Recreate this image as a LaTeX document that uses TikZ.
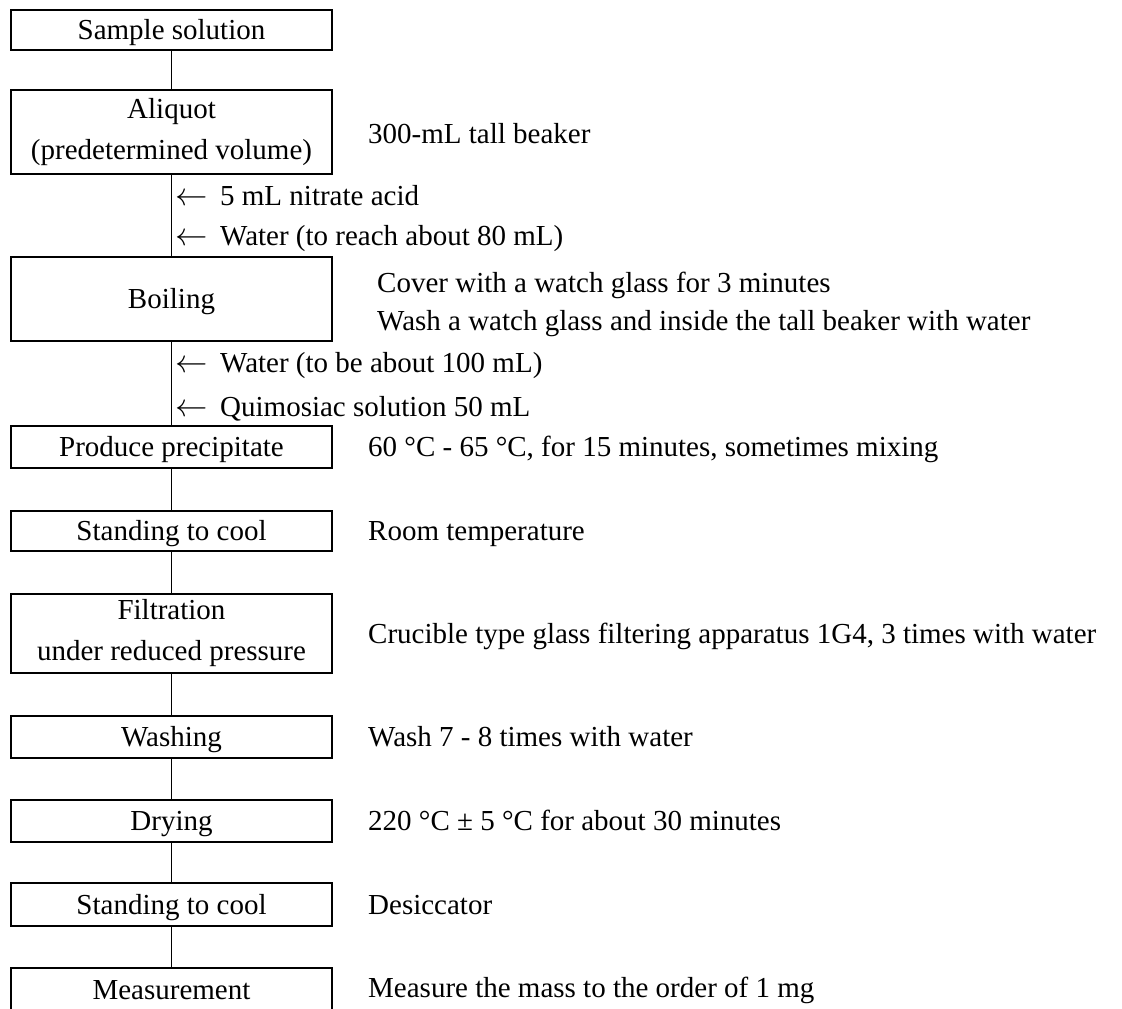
\documentclass[tikz,border=0pt]{standalone}
\usepackage{graphicx}
\usepackage{fontspec}
\setmainfont{Liberation Serif}
\newcommand{\addarrow}{\makebox[45pt][l]{\scalebox{1.3}{$\leftarrow$}}}
\begin{document}
\begin{tikzpicture}[x=1pt,y=-1pt,
  stepbox/.style={draw, line width=1.8pt, minimum width=321pt, inner sep=0pt, align=center,
    font=\fontsize{29}{41}\selectfont},
  oneline/.style={text height=19pt, text depth=0pt},
  note/.style={anchor=west, inner sep=0pt, font=\fontsize{29}{38}\selectfont, text height=19pt, text depth=0pt},
  link/.style={line width=1.8pt}]
\fill[white] (0,0) rectangle (1122,1009);
\useasboundingbox (0,0) rectangle (1122,1009);
% process boxes
\node[stepbox, oneline, minimum height=40pt] (s1) at (171.5,30) {Sample solution};
\node[stepbox, minimum height=84pt] (s2) at (171.5,132) {Aliquot\\(predetermined volume)};
\node[stepbox, oneline, minimum height=84pt] (s3) at (171.5,299) {Boiling};
\node[stepbox, oneline, minimum height=42pt] (s4) at (171.5,447) {Produce precipitate};
\node[stepbox, oneline, minimum height=40pt] (s5) at (171.5,531) {Standing to cool};
\node[stepbox, minimum height=79pt] (s6) at (171.5,633.5) {Filtration\\under reduced pressure};
\node[stepbox, oneline, minimum height=42pt] (s7) at (171.5,737) {Washing};
\node[stepbox, oneline, minimum height=42pt] (s8) at (171.5,821) {Drying};
\node[stepbox, oneline, minimum height=43pt] (s9) at (171.5,904.5) {Standing to cool};
\node[stepbox, oneline, minimum height=43pt] (s10) at (171.5,989.5) {Measurement};
% connectors
\draw[link] (s1.south) -- (s2.north);
\draw[link] (s2.south) -- (s3.north);
\draw[link] (s3.south) -- (s4.north);
\draw[link] (s4.south) -- (s5.north);
\draw[link] (s5.south) -- (s6.north);
\draw[link] (s6.south) -- (s7.north);
\draw[link] (s7.south) -- (s8.north);
\draw[link] (s8.south) -- (s9.north);
\draw[link] (s9.south) -- (s10.north);
% additions
\node[note] (a1) at (175,196) {\addarrow 5 mL nitrate acid};
\node[note] (a2) at (175,236) {\addarrow Water (to reach about 80 mL)};
\node[note] (a3) at (175,363) {\addarrow Water (to be about 100 mL)};
\node[note] (a4) at (175,407) {\addarrow Quimosiac solution 50 mL};
% conditions
\node[note] (c2) at (368,134) {300-mL tall beaker};
\node[note] (c3a) at (377,283) {Cover with a watch glass for 3 minutes};
\node[note] (c3b) at (377,321) {Wash a watch glass and inside the tall beaker with water};
\node[note] (c4) at (368,447) {60 °C - 65 °C, for 15 minutes, sometimes mixing};
\node[note] (c5) at (368,531) {Room temperature};
\node[note] (c6) at (368,634) {Crucible type glass filtering apparatus 1G4, 3 times with water};
\node[note] (c7) at (368,737) {Wash 7 - 8 times with water};
\node[note] (c8) at (368,821) {220 °C ± 5 °C for about 30 minutes};
\node[note] (c9) at (368,905) {Desiccator};
\node[note] (c10) at (368,988) {Measure the mass to the order of 1 mg};
\end{tikzpicture}
\end{document}
